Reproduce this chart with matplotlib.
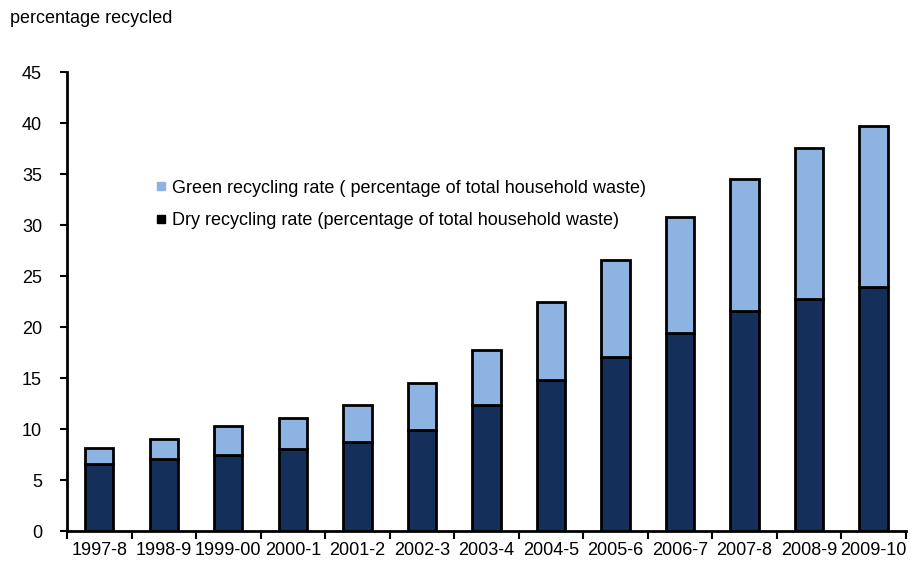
import matplotlib.pyplot as plt
import matplotlib
import numpy as np
from matplotlib.lines import Line2D

matplotlib.rcParams['font.family'] = ['Liberation Sans', 'DejaVu Sans']

years = ['1997-8', '1998-9', '1999-00', '2000-1', '2001-2', '2002-3', '2003-4',
         '2004-5', '2005-6', '2006-7', '2007-8', '2008-9', '2009-10']
dry = [6.6, 7.1, 7.5, 8.0, 8.7, 9.9, 12.4, 14.8, 17.1, 19.4, 21.6, 22.8, 23.9]
total = [8.1, 9.0, 10.3, 11.1, 12.4, 14.5, 17.8, 22.5, 26.6, 30.8, 34.5, 37.6, 39.7]
green = [t - d for t, d in zip(total, dry)]

dark = '#14305a'
light = '#8db3e2'

fig = plt.figure(figsize=(9.15, 5.64), dpi=100)
ax = fig.add_axes([0.0732, 0.0585, 0.9168, 0.8135])

x = np.arange(len(years))
ax.bar(x, dry, width=0.44, color=dark, edgecolor='black', linewidth=2, zorder=2)
ax.bar(x, green, bottom=dry, width=0.44, color=light, edgecolor='black', linewidth=2, zorder=2)

ax.set_xlim(-0.5, len(years) - 0.5)
ax.set_ylim(0, 45)
ax.set_yticks(range(0, 46, 5))
ax.tick_params(axis='y', labelsize=13, length=5, width=1.5, direction='out', pad=13)

# category labels between boundary ticks
ax.set_xticks(x)
ax.set_xticklabels(years, fontsize=13)
ax.tick_params(axis='x', length=0, pad=8)
ax.set_xticks(np.arange(-0.5, len(years), 1), minor=True)
ax.tick_params(axis='x', which='minor', length=6, width=1.5, direction='out')

for s in ['top', 'right']:
    ax.spines[s].set_visible(False)
for s in ['left', 'bottom']:
    ax.spines[s].set_linewidth(2)

handles = [Line2D([], [], marker='s', linestyle='none', markersize=6,
                  markerfacecolor=light, markeredgecolor=light),
           Line2D([], [], marker='s', linestyle='none', markersize=6,
                  markerfacecolor='black', markeredgecolor='black')]
labels = ['Green recycling rate ( percentage of total household waste)',
          'Dry recycling rate (percentage of total household waste)']
ax.legend(handles, labels, loc='upper left', bbox_to_anchor=(0.102, 0.766),
          frameon=False, fontsize=13, handletextpad=0.15, labelspacing=0.85,
          handlelength=0.9, borderpad=0, borderaxespad=0)

fig.text(0.011, 0.967, 'percentage recycled', fontsize=13, va='center', ha='left')

fig.savefig('out.png', dpi=100)
plt.close()
